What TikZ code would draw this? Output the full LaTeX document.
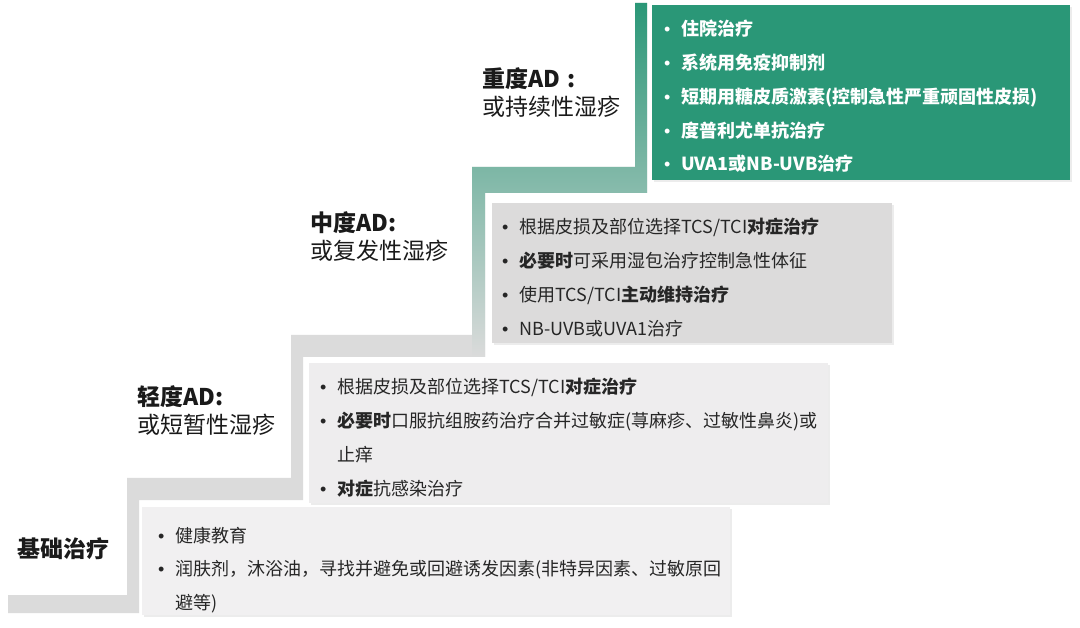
\documentclass[tikz,border=0pt]{standalone}
\usepackage{fontspec}
\setmainfont{Noto Sans CJK SC}
\newfontfamily\bulfont{Liberation Sans}
\usepackage{tikz}
\usetikzlibrary{shadows}
\definecolor{bandgray}{HTML}{DBDBDB}
\definecolor{teal1}{HTML}{2A9777}
\definecolor{teal2}{HTML}{86C2AE}
\definecolor{midgray}{HTML}{DCDBDB}
\definecolor{lightgray1}{HTML}{EEEDEE}
\definecolor{lightgray2}{HTML}{F1F0F1}
\definecolor{textgray}{HTML}{262626}
\definecolor{labelblack}{HTML}{1A1A1A}
\tikzstyle{stepbox} = [rectangle, draw=none, anchor=north west, inner sep=0pt, drop shadow={opacity=0.15, shadow xshift=1.5pt, shadow yshift=-1.5pt}]
\tikzstyle{items} = [anchor=base west, inner sep=0pt, text width=560pt, align=left, font=\fontsize{18}{33.7}\selectfont, text=textgray]
\tikzstyle{level} = [anchor=base west, inner sep=0pt, text width=170pt, align=left, font=\fontsize{23}{28}\selectfont, text=labelblack]
\newcommand{\itm}{\makebox[17pt][l]{\bulfont\mdseries •}}
\newcommand{\cont}{\hspace*{17pt}}

\begin{document}
\begin{tikzpicture}[x=1pt, y=-1pt]
\useasboundingbox (0,0) rectangle (1080,628);
% Draw stairs
\fill [bandgray] (8,595) -- (127,595) -- (127,478) -- (291,478) -- (291,335) -- (472,335) -- (472,167) -- (635,167) -- (635,3) -- (647,3) -- (647,193) -- (485,193) -- (485,357) -- (303,357) -- (303,500) -- (139,500) -- (139,613) -- (8,613) -- cycle;
\shade [top color=teal1, middle color=teal2, bottom color=bandgray] (472,167) -- (635,167) -- (635,3) -- (647,3) -- (647,193) -- (485,193) -- (485,357) -- (472,357) -- cycle;
% Place boxes
\node [stepbox, fill=lightgray2, minimum width=588pt, minimum height=108pt] (basebox) at (142,507) {};
\node [stepbox, fill=lightgray1, minimum width=519pt, minimum height=140pt] (mildbox) at (309,363) {};
\node [stepbox, fill=midgray, minimum width=400pt, minimum height=140pt] (modbox) at (492,203) {};
\node [stepbox, fill=teal1, minimum width=418pt, minimum height=175pt] (sevbox) at (652,5) {};
% Place labels
\node [level] (baselabel) at (17,557) {\textbf{基础治疗}};
\node [level] (mildlabel) at (137,406) {\textbf{轻度AD:}\\或短暂性湿疹};
\node [level] (modlabel) at (310,232) {\textbf{中度AD:}\\或复发性湿疹};
\node [level] (sevlabel) at (482,88) {\textbf{重度AD :}\\或持续性湿疹};
% Place items
\node [items] (baseitems) at (158,542) {\itm 健康教育\\
\itm 润肤剂，沐浴油，寻找并避免或回避诱发因素(非特异因素、过敏原回\\
\cont 避等)};
\node [items] (milditems) at (320,394) {\itm 根据皮损及部位选择TCS/TCI\textbf{对症治疗}\\
\itm \textbf{必要时}口服抗组胺药治疗合并过敏症(荨麻疹、过敏性鼻炎)或\\
\cont 止痒\\
\itm \textbf{对症}抗感染治疗};
\node [items] (moditems) at (502,234) {\itm 根据皮损及部位选择TCS/TCI\textbf{对症治疗}\\
\itm \textbf{必要时}可采用湿包治疗控制急性体征\\
\itm 使用TCS/TCI\textbf{主动维持治疗}\\
\itm NB-UVB或UVA1治疗};
\node [items, text=white, font=\fontsize{18}{33.7}\selectfont\bfseries] (sevitems) at (664,36) {\itm 住院治疗\\
\itm 系统用免疫抑制剂\\
\itm 短期用糖皮质激素(控制急性严重顽固性皮损)\\
\itm 度普利尤单抗治疗\\
\itm UVA1或NB-UVB治疗};
\end{tikzpicture}
\end{document}
